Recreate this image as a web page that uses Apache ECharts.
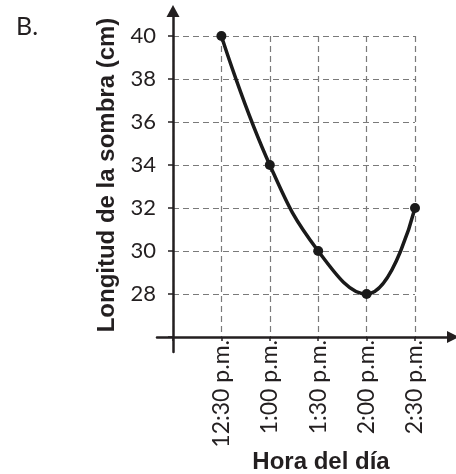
<!DOCTYPE html>
<html><head><meta charset="utf-8">
<script src="https://cdn.jsdelivr.net/npm/echarts@6/dist/echarts.min.js"></script>
<style>html,body{margin:0;padding:0;background:#fff}#c{width:456px;height:474px}</style>
</head><body><div id="c"></div>
<script>
const categories = ['12:30 p.m.', '1:00 p.m.', '1:30 p.m.', '2:00 p.m.', '2:30 p.m.'];
const shadowLength = [40, 34, 30, 28, 32];
const yTicks = [28, 30, 32, 34, 36, 38, 40];
const panelLabel = 'B.';
const xTitle = 'Hora del día';
const yTitle = 'Longitud de la sombra (cm)';

const ink = '#231f20';
const chart = echarts.init(document.getElementById('c'), null, {renderer: 'canvas'});
chart.setOption({
  animation: false,
  grid: [
    {left: 173, top: 36, width: 242, height: 301},
    {left: 157, top: 11, width: 296, height: 341}
  ],
  xAxis: [
    {gridIndex: 0, type: 'value', min: 0, max: categories.length, interval: 1,
      axisLine: {show: false},
      axisTick: {show: true, length: 4, lineStyle: {color: ink, width: 1.5}},
      axisLabel: {rotate: 90, margin: 3, color: ink, fontFamily: 'Lato', fontSize: 23,
        formatter: v => categories[v - 1] || ''},
      splitLine: {show: true, lineStyle: {color: '#7a7a7a', type: [6, 4], width: 1.2}}},
    {gridIndex: 1, type: 'value', min: -16, max: 280,
      axisLine: {show: true, onZero: true, symbol: ['none', 'triangle'], symbolSize: [12, 12],
        lineStyle: {color: ink, width: 2.5}},
      axisTick: {show: false}, axisLabel: {show: false}, splitLine: {show: false}}
  ],
  yAxis: [
    {gridIndex: 0, type: 'value', min: 26, max: yTicks[yTicks.length - 1], interval: 2,
      axisLine: {show: false},
      axisTick: {show: true, length: 5, lineStyle: {color: ink, width: 1.5}},
      axisLabel: {margin: 17, color: ink, fontFamily: 'Lato', fontSize: 22,
        formatter: v => yTicks.includes(v) ? String(v) : ''},
      splitLine: {show: true, lineStyle: {color: '#7a7a7a', type: [6, 4], width: 1.2}}},
    {gridIndex: 1, type: 'value', min: -15, max: 326,
      axisLine: {show: true, onZero: true, symbol: ['none', 'triangle'], symbolSize: [13, 12],
        lineStyle: {color: ink, width: 2.5}},
      axisTick: {show: false}, axisLabel: {show: false}, splitLine: {show: false}}
  ],
  series: [{
    type: 'line', xAxisIndex: 0, yAxisIndex: 0,
    data: shadowLength.map((v, i) => [i + 1, v]),
    smooth: 0.45,
    symbol: 'circle', symbolSize: 10,
    lineStyle: {color: '#1a1a1a', width: 3.5},
    itemStyle: {color: '#1a1a1a'},
    z: 5
  }],
  graphic: [
    {type: 'text', left: 16, top: 14, style: {text: panelLabel, fill: ink, font: '25px Lato'}},
    {type: 'text', x: 107, y: 175, rotation: Math.PI / 2,
      style: {text: yTitle, fill: ink, font: 'bold 24px "Liberation Sans"', textAlign: 'center', textVerticalAlign: 'middle'}},
    {type: 'text', x: 321, y: 462,
      style: {text: xTitle, fill: ink, font: 'bold 24px "Liberation Sans"', textAlign: 'center', textVerticalAlign: 'middle'}}
  ]
});
</script></body></html>
